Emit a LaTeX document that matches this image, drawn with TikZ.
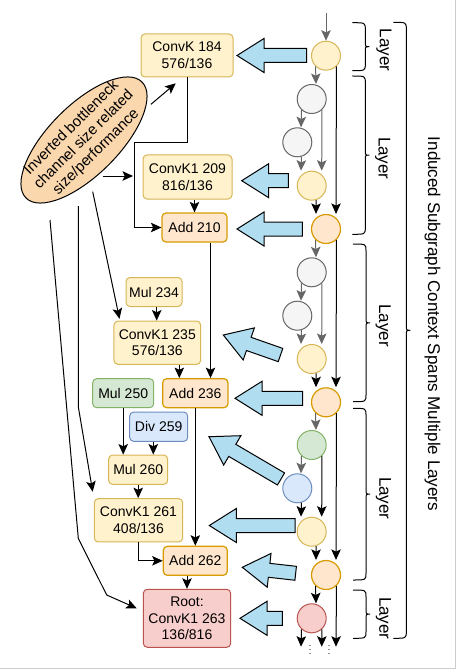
\documentclass[tikz,border=0pt]{standalone}
\usepackage{fontspec}
\setmainfont{Liberation Sans}
\usetikzlibrary{arrows.meta}
\definecolor{yelF}{HTML}{FFF2CC}\definecolor{yelD}{HTML}{D6B656}
\definecolor{orgF}{HTML}{FFE6CC}\definecolor{orgD}{HTML}{D79B00}
\definecolor{grnF}{HTML}{D5E8D4}\definecolor{grnD}{HTML}{82B366}
\definecolor{bluF}{HTML}{DAE8FC}\definecolor{bluD}{HTML}{6C8EBF}
\definecolor{redF}{HTML}{F8CECC}\definecolor{redD}{HTML}{B85450}
\definecolor{gryF}{HTML}{F5F5F5}\definecolor{gryD}{HTML}{666666}
\definecolor{ellF}{HTML}{FAD7AC}
\definecolor{arrF}{HTML}{B1DDF0}
\definecolor{frameC}{HTML}{CCCCCC}
\tikzset{
  pics/bluearrow/.style={code={
    \draw[barr] (0,0) -- (27,17) -- (27,7) -- (#1,7) -- (#1,-7) -- (27,-7) -- (27,-17) -- cycle;}},
  pics/rbrace/.style={code={
    \draw[brc] (0,0) .. controls (13,0) .. (13,7) -- (13,{#1/2-5})
      .. controls (13,{#1/2}) .. (17,{#1/2})
      .. controls (13,{#1/2}) .. (13,{#1/2+5}) -- (13,{#1-7})
      .. controls (13,#1) .. (0,#1);}}
}
\begin{document}
\begin{tikzpicture}[x=1pt,y=-1pt,
  box/.style={rectangle, rounded corners=4pt, line width=1pt, inner sep=0pt, align=center,
    font=\fontsize{14}{16.8}\selectfont},
  ybox/.style={box, draw=yelD, fill=yelF},
  obox/.style={box, draw=orgD, fill=orgF, line width=1.2pt},
  gbox/.style={box, draw=grnD, fill=grnF},
  bbox/.style={box, draw=bluD, fill=bluF},
  rbox/.style={box, draw=redD, fill=redF},
  circ/.style={circle, minimum size=29pt, inner sep=0pt, line width=1pt},
  ycirc/.style={circ, draw=yelD, fill=yelF},
  ocirc/.style={circ, draw=orgD, fill=orgF, line width=1.2pt},
  gcirc/.style={circ, draw=gryD, fill=gryF},
  grcirc/.style={circ, draw=grnD, fill=grnF},
  blcirc/.style={circ, draw=bluD, fill=bluF},
  rdcirc/.style={circ, draw=redD, fill=redF},
  conn/.style={draw=black, line width=1pt, -{Stealth[length=10.5pt,width=9.5pt,inset=2.2pt]}},
  gconn/.style={draw=gryD, line width=1pt, -{Stealth[length=10.5pt,width=9.5pt,inset=2.2pt]}},
  barr/.style={draw=black, fill=arrF, line width=1pt, line join=miter},
  brc/.style={draw=black, line width=1pt},
  laytext/.style={rotate=-90, inner sep=0pt, font=\fontsize{17}{20}\selectfont},
  elltext/.style={rotate=45, inner sep=0pt, align=center, font=\fontsize{15}{17.3}\selectfont}
]
\useasboundingbox (0,0) rectangle (456,671);
\draw[frameC, line width=1pt] (455,0) -- (455,668.5) -- (0,668.5);

% ---- ellipse ----
\coordinate (ellc) at (84,140);
\draw[draw=black, fill=ellF, line width=1pt, rotate around={45:(ellc)}] (ellc) ellipse [x radius=82, y radius=35];
\node[elltext] (ell) at (ellc) {Inverted bottleneck\\channel size related\\size/performance};

% ---- left boxes ----
\node[ybox, minimum width=92pt, minimum height=43pt] (k184) at (187,55.5) {ConvK 184\\576/136};
\node[ybox, minimum width=89pt, minimum height=44pt] (k209) at (187.5,177) {ConvK1 209\\816/136};
\node[obox, minimum width=65pt, minimum height=29pt] (a210) at (194.5,227.5) {Add 210};
\node[ybox, minimum width=56pt, minimum height=29pt] (m234) at (154,292) {Mul 234};
\node[ybox, minimum width=86.7pt, minimum height=43.3pt] (k235) at (157.3,342.7) {ConvK1 235\\576/136};
\node[gbox, minimum width=61pt, minimum height=29pt] (m250) at (123.2,393.2) {Mul 250};
\node[obox, minimum width=65.3pt, minimum height=29pt] (a236) at (195.3,393.2) {Add 236};
\node[bbox, minimum width=58pt, minimum height=29.3pt] (d259) at (158.7,426.7) {Div 259};
\node[ybox, minimum width=59pt, minimum height=29.3pt] (m260) at (138.2,469.7) {Mul 260};
\node[ybox, minimum width=88.4pt, minimum height=43.3pt] (k261) at (138.5,520.3) {ConvK1 261\\408/136};
\node[obox, minimum width=64pt, minimum height=29pt] (a262) at (195.3,560.8) {Add 262};
\node[rbox, minimum width=87.4pt, minimum height=58pt] (root) at (187,618.3) {Root:\\ConvK1 263\\136/816};

% ---- left connectors ----
\coordinate (e1) at (151,104.3); \coordinate (t1) at (175.7,83.3);
\coordinate (e2) at (103.3,176); \coordinate (t2) at (133,176);
\coordinate (e3) at (92.7,191.7); \coordinate (t3) at (119.5,318.8);
\coordinate (e4) at (78.3,206); \coordinate (b4) at (78.3,406.7); \coordinate (t4) at (92.7,491.7);
\coordinate (e5) at (50,220); \coordinate (b5) at (78.3,538.3); \coordinate (b6) at (106.7,595); \coordinate (t5) at (136.7,608.3);
\coordinate (j1) at (134,142.3);
\draw[conn] (e1) -- (t1);
\draw[conn] (k184.south) |- (j1) |- (a210.west);
\draw[conn] (e2) -- (t2);
\draw[conn] (a210.north |- k209.south) -- (a210.north);
\draw[conn] ([xshift=16pt]a210.south) -- ([xshift=16pt]a210.south |- a236.north);
\draw[conn] (e3) -- (t3);
\draw[conn] ([xshift=2.7pt]m234.south) -- ([xshift=2.7pt]m234.south |- k235.north);
\draw[conn] ([xshift=-16pt]a236.north |- k235.south) -- ([xshift=-16pt]a236.north);
\draw[conn] (m250.south) -- (m250.south |- m260.north);
\draw[conn] ([xshift=-5.4pt]d259.south) -- ([xshift=-5.4pt]d259.south |- m260.north);
\draw[conn] (m260.south) -- (m260.south |- k261.north);
\draw[conn] (e4) -- (b4) -- (t4);
\draw[conn] (a236.south) -- (a262.north);
\draw[conn] (k261.south) |- (a262.west);
\draw[conn] (root.north |- a262.south) -- (root.north);
\draw[conn] (e5) -- (b5) -- (b6) -- (t5);

% ---- right column coordinates ----
\coordinate (xa) at (301,0);
\coordinate (xb) at (316,0);
\coordinate (xc) at (321.7,0);
\coordinate (xd) at (336,0);
\coordinate (topin) at (326,12.7);
\coordinate (endy) at (0,646.7);

\node[ycirc] (c1) at (326,55.7) {};
\node[gcirc] (g1) at (311.7,99) {};
\node[gcirc] (g2) at (297.3,142.3) {};
\node[ycirc] (y2) at (311.7,185.7) {};
\node[ocirc] (o1) at (326,229) {};
\node[gcirc] (g3) at (311.7,272.3) {};
\node[gcirc] (g4) at (297.3,315.7) {};
\node[ycirc] (y3) at (311.7,359) {};
\node[ocirc] (o2) at (326,402.3) {};
\node[grcirc] (gr) at (311.7,445) {};
\node[blcirc] (bl) at (297.3,488.3) {};
\node[ycirc] (y4) at (311.7,531.7) {};
\node[ocirc] (o3) at (326,575) {};
\node[rdcirc] (rd) at (311.7,618.3) {};

% ---- right connectors (start on the source boundary) ----
\draw[gconn] (topin) -- (c1.north);
\draw[gconn] (c1.226) -- (xb |- g1.north);
\draw[conn] (c1.314) -- (xd |- o1.north);
\draw[gconn] (g1.227) -- (xa |- g2.north);
\draw[gconn] (g1.313) -- (xc |- y2.north);
\draw[gconn] (g2.286) -- (xa |- y2.north);
\draw[conn] (y2.287) -- (xb |- o1.north);
\draw[gconn] (o1.226) -- (xb |- g3.north);
\draw[conn] (o1.314) -- (xd |- o2.north);
\draw[gconn] (g3.227) -- (xa |- g4.north);
\draw[gconn] (g3.313) -- (xc |- y3.north);
\draw[gconn] (g4.286) -- (xa |- y3.north);
\draw[conn] (y3.287) -- (xb |- o2.north);
\draw[gconn] (o2.226) -- (xb |- gr.north);
\draw[conn] (o2.314) -- (xd |- o3.north);
\draw[gconn] (gr.227) -- (xa |- bl.north);
\draw[conn] (gr.313) -- (xc |- y4.north);
\draw[conn] (bl.286) -- (xa |- y4.north);
\draw[conn] (y4.287) -- (xb |- o3.north);
\draw[conn] (o3.226) -- (xb |- rd.north);
\draw[conn] (o3.314) -- (xd |- endy);
\draw[conn] (rd.227) -- (xa |- endy);
\draw[conn] (rd.313) -- (xc |- endy);
\node[anchor=south, inner sep=0pt, font=\fontsize{9}{9}\selectfont] (dots1) at (310,655) {$\vdots$};
\node[anchor=south, inner sep=0pt, font=\fontsize{9}{9}\selectfont] (dots2) at (329,655) {$\vdots$};

% ---- big blue arrows ----
\pic at (237,55.5) {bluearrow=69.7};
\pic at (241.7,180.7) {bluearrow=46.6};
\pic at (237,229) {bluearrow=65.3};
\pic[rotate=-19.3] at (223.3,335) {bluearrow=60.6};
\pic at (235,398.3) {bluearrow=67.7};
\pic[rotate=-30.4] at (209,436.7) {bluearrow=83.5};
\pic at (209.3,525.5) {bluearrow=85.7};
\pic[rotate=-6.4] at (242.3,567.3) {bluearrow=53.7};
\pic at (240,618.3) {bluearrow=42.3};

% ---- braces ----
\pic at (352.3,22.7) {rbrace=48};
\pic at (352.3,76) {rbrace=158.3};
\pic at (353,244) {rbrace=157.7};
\pic at (353,408.3) {rbrace=171.7};
\pic at (353,590) {rbrace=48.3};
\pic at (393.3,22.3) {rbrace=616};

\node[laytext] (lay1) at (384,50) {Layer};
\node[laytext] (lay2) at (382.7,158.3) {Layer};
\node[laytext] (lay3) at (383.3,325.8) {Layer};
\node[laytext] (lay4) at (383.5,498.3) {Layer};
\node[laytext] (lay5) at (383.5,618.3) {Layer};
\node[laytext] (induced) at (432.5,324) {Induced Subgraph Context Spans Multiple Layers};
\end{tikzpicture}
\end{document}
